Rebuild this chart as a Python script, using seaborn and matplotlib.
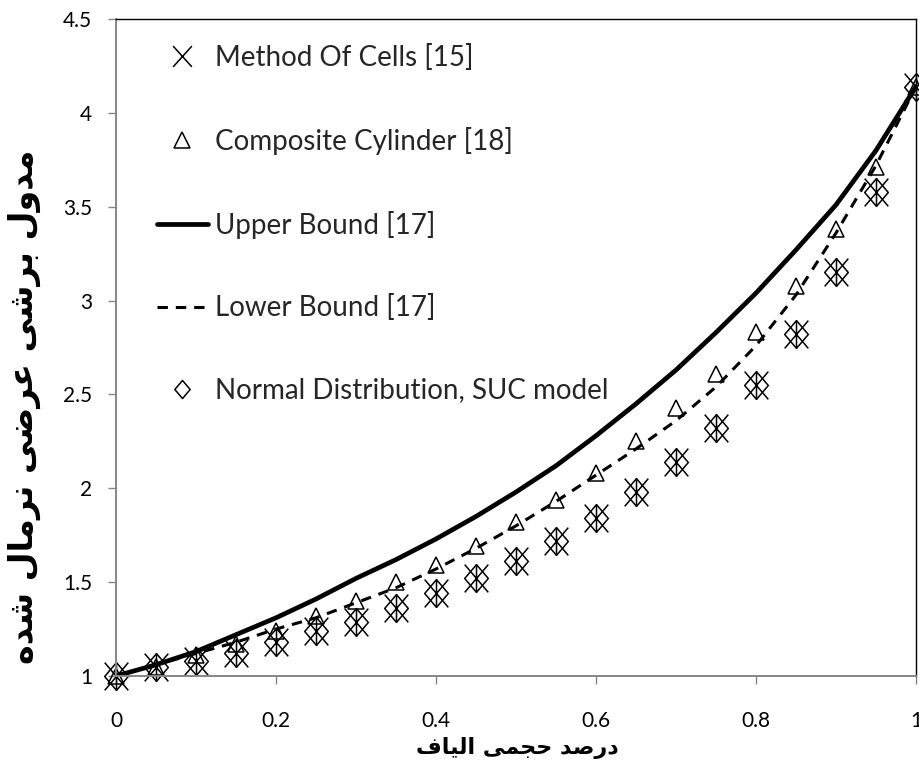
import matplotlib
matplotlib.use("Agg")
import matplotlib.pyplot as plt
from matplotlib.path import Path
from matplotlib.ticker import FuncFormatter
import seaborn as sns

# ---------------- data ----------------
fiber_fraction = [0.0, 0.05, 0.10, 0.15, 0.20, 0.25, 0.30, 0.35, 0.40, 0.45, 0.50,
                  0.55, 0.60, 0.65, 0.70, 0.75, 0.80, 0.85, 0.90, 0.95, 1.0]
method_of_cells = [1.0, 1.05, 1.08, 1.12, 1.18, 1.24, 1.29, 1.36, 1.44, 1.52, 1.61,
                   1.72, 1.84, 1.98, 2.14, 2.32, 2.55, 2.82, 3.15, 3.58, 4.14]
composite_cylinder = [1.0, 1.05, 1.11, 1.17, 1.24, 1.32, 1.40, 1.50, 1.59, 1.69, 1.82,
                      1.94, 2.08, 2.25, 2.43, 2.61, 2.83, 3.08, 3.38, 3.71, 4.14]
upper_bound = [1.0, 1.06, 1.13, 1.22, 1.31, 1.41, 1.52, 1.62, 1.73, 1.85, 1.98,
               2.12, 2.28, 2.45, 2.63, 2.83, 3.04, 3.27, 3.51, 3.80, 4.14]
lower_bound = [1.0, 1.06, 1.12, 1.18, 1.25, 1.31, 1.39, 1.47, 1.57, 1.68, 1.80,
               1.93, 2.07, 2.21, 2.36, 2.54, 2.76, 3.03, 3.36, 3.72, 4.14]
normal_suc = [1.0, 1.05, 1.08, 1.12, 1.18, 1.24, 1.29, 1.36, 1.44, 1.52, 1.61,
              1.72, 1.84, 1.98, 2.14, 2.32, 2.55, 2.82, 3.15, 3.58, 4.14]

series_labels = ["Method Of Cells [15]", "Composite Cylinder [18]", "Upper Bound [17]",
                 "Lower Bound [17]", "Normal Distribution, SUC model"]
x_label = "درصد حجمی الیاف"
y_label = "مدول برشی عرضی نرمال شده"
x_ticks = [0, 0.2, 0.4, 0.6, 0.8, 1.0]
y_ticks = [1, 1.5, 2, 2.5, 3, 3.5, 4, 4.5]


# --------- simple Arabic/Persian shaping (matplotlib has no text shaping) ---------
FORMS = {
    "ا": ("\uFE8D", "\uFE8E", None, None),
    "ب": ("\uFE8F", "\uFE90", "\uFE91", "\uFE92"),
    "ت": ("\uFE95", "\uFE96", "\uFE97", "\uFE98"),
    "ج": ("\uFE9D", "\uFE9E", "\uFE9F", "\uFEA0"),
    "ح": ("\uFEA1", "\uFEA2", "\uFEA3", "\uFEA4"),
    "د": ("\uFEA9", "\uFEAA", None, None),
    "ر": ("\uFEAD", "\uFEAE", None, None),
    "ز": ("\uFEAF", "\uFEB0", None, None),
    "ش": ("\uFEB5", "\uFEB6", "\uFEB7", "\uFEB8"),
    "ص": ("\uFEB9", "\uFEBA", "\uFEBB", "\uFEBC"),
    "ض": ("\uFEBD", "\uFEBE", "\uFEBF", "\uFEC0"),
    "ع": ("\uFEC9", "\uFECA", "\uFECB", "\uFECC"),
    "ف": ("\uFED1", "\uFED2", "\uFED3", "\uFED4"),
    "ل": ("\uFEDD", "\uFEDE", "\uFEDF", "\uFEE0"),
    "م": ("\uFEE1", "\uFEE2", "\uFEE3", "\uFEE4"),
    "ن": ("\uFEE5", "\uFEE6", "\uFEE7", "\uFEE8"),
    "ه": ("\uFEE9", "\uFEEA", "\uFEEB", "\uFEEC"),
    "و": ("\uFEED", "\uFEEE", None, None),
    "ی": ("\uFBFC", "\uFBFD", "\uFBFE", "\uFBFF"),
}


def shape(text):
    out = []
    n = len(text)
    for i, c in enumerate(text):
        if c not in FORMS:
            out.append(c)
            continue
        iso, fin, ini, med = FORMS[c]
        prev = text[i - 1] if i > 0 else None
        nxt = text[i + 1] if i + 1 < n else None
        jp = prev in FORMS and FORMS[prev][2] is not None
        jn = ini is not None and nxt in FORMS
        if jp and jn:
            out.append(med)
        elif jp:
            out.append(fin)
        elif jn:
            out.append(ini)
        else:
            out.append(iso)
    return "".join(reversed(out))


# ---------------- style ----------------
sns.set_theme(style="white")
plt.rcParams["font.family"] = ["Lato", "DejaVu Sans"]

fig = plt.figure(figsize=(9.19, 7.69), dpi=100)
ax = fig.add_axes([116 / 919, 1 - 676 / 769, 800 / 919, 657 / 769])

star = Path([(-0.85, -1), (0.85, 1), (-0.85, 1), (0.85, -1), (0, -1), (0, 1)],
            [Path.MOVETO, Path.LINETO, Path.MOVETO, Path.LINETO, Path.MOVETO, Path.LINETO])
xmark = Path([(-0.9, -1), (0.9, 1), (-0.9, 1), (0.9, -1)],
             [Path.MOVETO, Path.LINETO, Path.MOVETO, Path.LINETO])
diamond = Path([(0, 1), (0.85, 0), (0, -1), (-0.85, 0), (0, 1)],
               [Path.MOVETO, Path.LINETO, Path.LINETO, Path.LINETO, Path.CLOSEPOLY])

mk = dict(linestyle="none", color="black", mfc="none", mec="black", mew=1.1,
          clip_on=False, ax=ax)

sns.lineplot(x=fiber_fraction, y=method_of_cells, marker=star, markersize=20,
             label=series_labels[0], **mk)
sns.lineplot(x=fiber_fraction, y=composite_cylinder, marker="^", markersize=12,
             label=series_labels[1], **mk)
sns.lineplot(x=fiber_fraction, y=upper_bound, color="black", linewidth=3.4,
             label=series_labels[2], ax=ax)
sns.lineplot(x=fiber_fraction, y=lower_bound, color="black", linewidth=2.2,
             linestyle=(0, (3.4, 2.6)), label=series_labels[3], ax=ax)
sns.lineplot(x=fiber_fraction, y=normal_suc, marker=diamond, markersize=20,
             label=series_labels[4], **mk)

ax.set_xlim(0, 1)
ax.set_ylim(1, 4.5)
ax.set_xticks(x_ticks)
ax.set_yticks(y_ticks)
fmt = FuncFormatter(lambda v, p: f"{v:g}")
ax.xaxis.set_major_formatter(fmt)
ax.yaxis.set_major_formatter(fmt)
ax.grid(False)

for s in ["left", "bottom"]:
    ax.spines[s].set_color("#868686")
    ax.spines[s].set_linewidth(1.4)
for s in ["top", "right"]:
    ax.spines[s].set_color("black")
    ax.spines[s].set_linewidth(1.0)

ax.tick_params(axis="both", which="major", bottom=True, left=True, direction="out",
               length=6, width=1.0, color="#868686", labelsize=15, labelcolor="black")
ax.tick_params(axis="y", pad=11)
ax.tick_params(axis="x", pad=19)

ax.set_xlabel("")
ax.set_ylabel("")

fig.text(517 / 919, 1 - 748 / 769, shape(x_label), ha="center", va="center",
         fontsize=16, fontweight="bold", family=["DejaVu Sans"], color="black")
fig.text(24 / 919, 1 - 407 / 769, shape(y_label), ha="center", va="center",
         rotation=90, fontsize=24, fontweight="bold", family=["DejaVu Sans"],
         color="black")

handles, labels = ax.get_legend_handles_labels()
leg = ax.legend(handles, labels, loc="upper left", bbox_to_anchor=(0.051, 0.962),
                frameon=False, fontsize=20, labelspacing=2.01, handlelength=1.84,
                handletextpad=0.25, borderpad=0, borderaxespad=0)
lh = leg.legend_handles
lh[0].set_marker(xmark)
lh[0].set_markersize(15)
lh[1].set_markersize(11)
lh[4].set_markersize(13)

fig.savefig("out.png", dpi=100, facecolor="white")
